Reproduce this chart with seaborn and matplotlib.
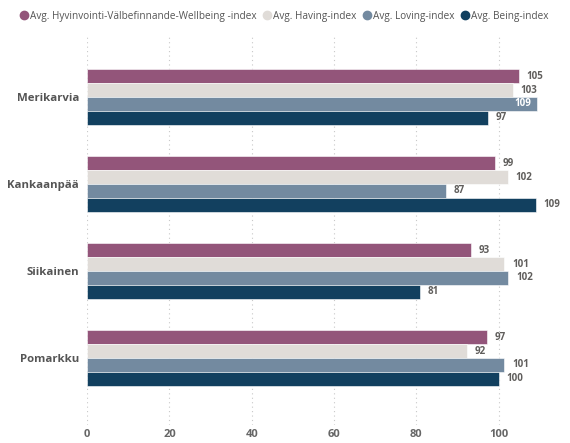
import matplotlib
matplotlib.use("Agg")
import matplotlib.pyplot as plt
from matplotlib.lines import Line2D
import seaborn as sns
import pandas as pd

regions = ["Merikarvia", "Kankaanpää", "Siikainen", "Pomarkku"]
measures = ["Avg. Hyvinvointi-Välbefinnande-Wellbeing -index",
            "Avg. Having-index", "Avg. Loving-index", "Avg. Being-index"]
wellbeing = [104.9, 99.2, 93.2, 97.1]
having = [103.4, 102.2, 101.4, 92.2]
loving = [109.4, 87.2, 102.4, 101.4]
being = [97.4, 109.0, 81.0, 100.0]
colors = ["#93557A", "#E0DCD8", "#738AA0", "#12405F"]
xticks = [0, 20, 40, 60, 80, 100]

series = [wellbeing, having, loving, being]
rows = []
for m, vals in zip(measures, series):
    for r, v in zip(regions, vals):
        rows.append({"region": r, "measure": m, "value": v})
df = pd.DataFrame(rows)

sns.set_style("white")
plt.rcParams["font.family"] = ["Open Sans", "DejaVu Sans"]

fig = plt.figure(figsize=(5.7, 4.43), dpi=100)
ax = fig.add_axes([0.153, 0.0406, 0.83, 0.876])

sns.barplot(data=df, y="region", x="value", hue="measure", order=regions,
            hue_order=measures, palette=colors, orient="h", width=0.635,
            saturation=1, edgecolor="#FFFFFF", linewidth=0.4, legend=False,
            ax=ax, errorbar=None)

ax.set_xlim(0, 115)
ax.set_ylim(3.77, -0.69)
ax.set_xticks(xticks)
ax.set_xticklabels([str(t) for t in xticks])
ax.xaxis.grid(True, linestyle=(0, (1, 3)), color="#C8C8C8", linewidth=0.8)
ax.yaxis.grid(False)
ax.set_axisbelow(True)
for s in ax.spines.values():
    s.set_visible(False)
ax.set_xlabel("")
ax.set_ylabel("")
ax.tick_params(axis="x", length=0, pad=3, labelsize=8, labelcolor="#666666")
ax.tick_params(axis="y", length=0, pad=6, labelsize=8.2, labelcolor="#555555")
for lab in ax.get_xticklabels():
    lab.set_fontweight("bold")
for lab in ax.get_yticklabels():
    lab.set_fontweight("bold")

for cont in ax.containers:
    for p in cont.patches:
        w = p.get_width()
        yc = p.get_y() + p.get_height() / 2
        txt = f"{w:.0f}"
        if w > 109.2:
            ax.annotate(txt, (w, yc), xytext=(-4.5, 0), textcoords="offset points",
                        ha="right", va="center", fontsize=7, fontweight="bold",
                        color="white")
        else:
            ax.annotate(txt, (w, yc), xytext=(5.5, 0), textcoords="offset points",
                        ha="left", va="center", fontsize=7, fontweight="bold",
                        color="#605E5C")

handles = [Line2D([0], [0], marker="o", linestyle="", markersize=6,
                  markerfacecolor=c, markeredgecolor=c) for c in colors]
fig.legend(handles, measures, loc="center left", bbox_to_anchor=(0.03, 0.963),
           ncol=4, frameon=False, fontsize=7.2, handlelength=0.6,
           handletextpad=0.25, columnspacing=0.8, borderaxespad=0,
           labelcolor="#555555")

fig.savefig("out.png", dpi=100)
